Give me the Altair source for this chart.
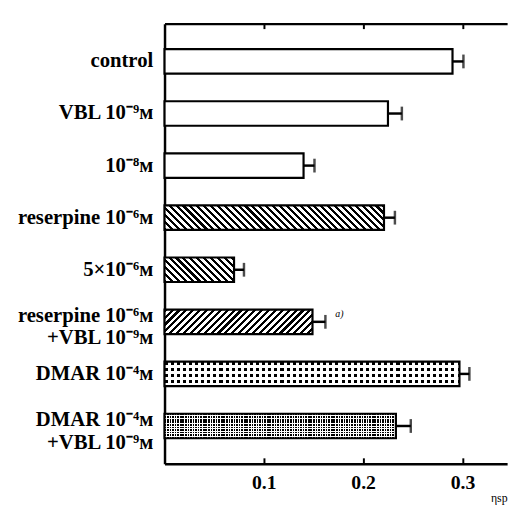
import altair as alt
import pandas as pd

# ---- data ----
labels = [
    "control",
    "VBL 10⁻⁹ᴍ",
    "10⁻⁸ᴍ",
    "reserpine 10⁻⁶ᴍ",
    "5×10⁻⁶ᴍ",
    "reserpine 10⁻⁶ᴍ|+VBL 10⁻⁹ᴍ",
    "DMAR 10⁻⁴ᴍ",
    "DMAR 10⁻⁴ᴍ|+VBL 10⁻⁹ᴍ",
]
values = [0.290, 0.225, 0.140, 0.221, 0.070, 0.149, 0.297, 0.233]
errors = [0.011, 0.014, 0.011, 0.011, 0.010, 0.013, 0.010, 0.015]
patterns = ["none", "none", "none", "back", "back", "fwd", "dots", "fine"]
notes = ["", "", "", "", "", "a)", "", ""]
tick_values = [0.1, 0.2, 0.3]
x_max = 0.345

# ---- layout / style ----
W, H = 348, 447
P_IN, P_OUT = 0.53, 0.49
step = H / (len(labels) - P_IN + 2 * P_OUT)
bw = step * (1 - P_IN)
SERIF = "Liberation Serif"

df = pd.DataFrame({"label": labels, "value": values, "err": errors,
                   "pattern": patterns, "note": notes})
df["hi"] = df["value"] + df["err"]

xscale = alt.Scale(domain=[0, x_max], nice=False, zero=True)
yscale = alt.Scale(paddingInner=P_IN, paddingOuter=P_OUT)


def stripe_stops(span, period, frac, on, off):
    stops = []
    i = 0
    while i * period < span:
        a = round(i * period / span, 5)
        b = round(min((i + frac) * period / span, 1), 5)
        c = round(min((i + 1) * period / span, 1), 5)
        stops += [{"offset": a, "color": on}, {"offset": b, "color": on},
                  {"offset": b, "color": off}, {"offset": c, "color": off}]
        i += 1
    return stops


def hatch(w, h, direction, period=7, frac=0.45):
    a = (w + h) / (w * w + h * h)
    if direction == "back":
        g = {"x1": 0, "y1": 1, "x2": a * w, "y2": 1 - a * h}
    else:
        g = {"x1": 0, "y1": 0, "x2": a * w, "y2": a * h}
    g.update({"gradient": "linear",
              "stops": stripe_stops(w + h, period, frac, "black", "white")})
    return g


def vstripes(w, period, frac):
    return {"gradient": "linear", "x1": 0, "y1": 0, "x2": 1, "y2": 0,
            "stops": stripe_stops(w, period, frac, "black", "white")}


def hstripes(h, period, frac):
    return {"gradient": "linear", "x1": 0, "y1": 0, "x2": 0, "y2": 1,
            "stops": stripe_stops(h, period, frac, "rgba(255,255,255,0)", "white")}


y_enc = alt.Y("label:N", sort=None, scale=yscale,
              axis=alt.Axis(orient="left", title=None, ticks=False, domain=True,
                            domainColor="black", domainWidth=2.5, grid=False,
                            labelFont=SERIF, labelFontWeight="bold",
                            labelFontSize=21, labelColor="black", labelPadding=12,
                            labelLimit=220, labelLineHeight=23,
                            labelBaseline={"condition": {"test": "indexof(datum.value, '|') >= 0",
                                                         "value": "alphabetic"},
                                           "value": "middle"},
                            labelExpr="split(datum.label, '|')"))

base = alt.Chart(df).mark_bar(color="white").encode(
    x=alt.X("value:Q", scale=xscale, axis=None),
)

layers = [base]
for i, lab in enumerate(labels):
    w = values[i] / x_max * W
    p = patterns[i]
    sel = alt.Chart(df).transform_filter(alt.FieldEqualPredicate(field="label", equal=lab))
    enc = dict(x=alt.X("value:Q", scale=xscale, axis=None))
    if p in ("back", "fwd"):
        layers.append(sel.mark_bar(fill=hatch(w, bw, p)).encode(**enc))
    elif p == "dots":
        layers.append(sel.mark_bar(fill=vstripes(w, 6.2, 0.5)).encode(**enc))
        layers.append(sel.mark_bar(fill=hstripes(bw, 6.2, 0.5)).encode(**enc))
    elif p == "fine":
        layers.append(sel.mark_bar(fill=vstripes(w, 2.6, 0.65)).encode(**enc))
        layers.append(sel.mark_bar(fill=hstripes(bw, 2.6, 0.65)).encode(**enc))

outline = alt.Chart(df).mark_bar(fillOpacity=0, stroke="black", strokeWidth=2.2).encode(
    x=alt.X("value:Q", scale=xscale,
            axis=alt.Axis(orient="bottom", values=tick_values, ticks=False, domain=True,
                          domainColor="black", domainWidth=2.5, grid=False,
                          labelFont=SERIF, labelFontSize=20, labelFontWeight="bold",
                          labelColor="black", labelPadding=9,
                          title="ηsp", titleFont=SERIF, titleFontSize=12,
                          titleFontWeight="normal",
                          titleColor="black", titleAnchor="end", titlePadding=0)),
)

rules = alt.Chart(df).mark_rule(color="black", strokeWidth=2.5).encode(
    x=alt.X("value:Q", scale=xscale,
            axis=alt.Axis(orient="bottom", values=tick_values, offset=-6, tickSize=6,
                          tickWidth=2, tickColor="black", domain=False, labels=False,
                          grid=False, title=None)),
    x2="hi:Q",
)

caps = alt.Chart(df).mark_tick(color="black", thickness=2.5, size=14).encode(
    x=alt.X("hi:Q", scale=xscale,
            axis=alt.Axis(orient="top", values=tick_values, offset=-5, tickSize=5,
                          tickWidth=2, tickColor="black", domain=False, labels=False,
                          grid=False, title=None)),
)

note = alt.Chart(df).transform_filter(alt.datum.note != "").mark_text(
    align="left", dx=10, dy=-8, font=SERIF, fontStyle="italic", fontSize=10, color="black"
).encode(
    x=alt.X("hi:Q", scale=xscale,
            axis=alt.Axis(orient="top", ticks=False, domain=True, domainColor="black",
                          domainWidth=2.2, labels=False, grid=False, title=None)),
    text="note:N",
)

layers += [outline, rules, caps, note]

chart = alt.layer(*layers).encode(y=y_enc).resolve_scale(x="shared", y="shared").resolve_axis(
    x="independent"
).properties(
    width=W, height=H,
    autosize=alt.AutoSizeParams(type="none"),
    padding={"left": 159, "top": 12, "right": 8, "bottom": 40},
    background="white",
).configure_view(strokeWidth=0)

chart.save("out.html", embed_options={"renderer": "svg", "actions": False})
